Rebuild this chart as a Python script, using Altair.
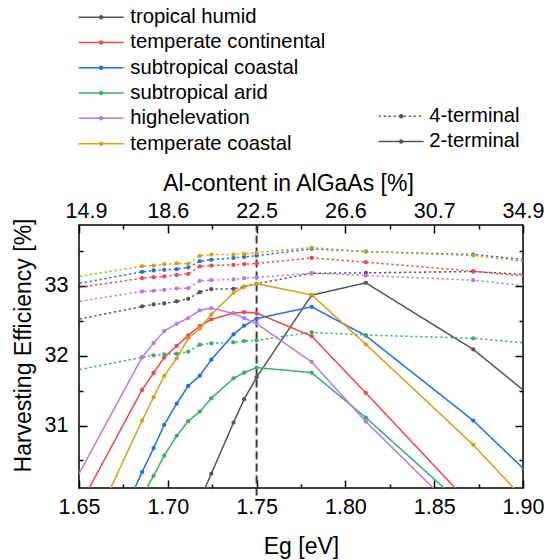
import altair as alt
import pandas as pd

# ---------------- data ----------------
EG = [1.62, 1.6855, 1.692, 1.698, 1.705, 1.7115, 1.718, 1.7245, 1.737, 1.743, 1.75,
      1.781, 1.8115, 1.872, 1.93]

CLIMATES = ["tropical humid", "temperate continental", "subtropical coastal",
            "subtropical arid", "highelevation", "temperate coastal"]
COLORS = ["#555555", "#f0474a", "#1f6fe6", "#38ae6c", "#b07ee6", "#d4a017"]
CONFIGS = ["4-terminal", "2-terminal"]

# 4-terminal (dotted)
TROP_4T = [32.37, 32.705, 32.734, 32.748, 32.777, 32.814, 32.91, 32.953, 32.957, 32.99, 33.03,
           33.18, 33.186, 33.205, 33.12]
TCONT_4T = [32.865, 33.11, 33.124, 33.134, 33.157, 33.171, 33.277, 33.291, 33.3, 33.31, 33.32,
            33.4, 33.339, 33.21, 33.065]
SCOAST_4T = [32.894, 33.2, 33.22, 33.229, 33.239, 33.263, 33.353, 33.372, 33.4, 33.414, 33.432,
             33.53, 33.49, 33.448, 33.301]
SARID_4T = [31.65, 31.977, 32.005, 32.02, 32.029, 32.057, 32.157, 32.177, 32.191, 32.21, 32.22,
            32.334, 32.296, 32.249, 32.12]
HIGH_4T = [32.656, 32.92, 32.929, 32.943, 32.962, 32.967, 33.071, 33.081, 33.091, 33.11, 33.122,
           33.181, 33.148, 33.081, 32.924]
TCOAST_4T = [33.01, 33.281, 33.291, 33.31, 33.32, 33.315, 33.43, 33.448, 33.448, 33.457, 33.475,
             33.548, 33.49, 33.434, 33.26]

# 2-terminal (solid)
TROP_2T = [None, None, None, None, None, None, 29.93, 30.31, 31.043, 31.377, 31.69,
           32.867, 33.043, 32.09, 30.89]
TCONT_2T = [28.42, 31.51, 31.753, 31.977, 32.139, 32.291, 32.424, 32.52, 32.61, 32.624, 32.61,
            32.28, 31.467, 29.83, None]
SCOAST_2T = [26.66, 30.334, 30.677, 31.01, 31.314, 31.567, 31.714, 31.943, 32.306, 32.43, 32.532,
             32.7, 32.286, 31.071, 29.66]
SARID_2T = [None, 29.99, 30.28, 30.571, 30.853, 31.063, 31.2, 31.39, 31.676, 31.757, 31.83,
            31.757, 31.114, 29.73, None]
HIGH_2T = [28.90, 31.977, 32.181, 32.353, 32.457, 32.539, 32.648, 32.681, 32.605, 32.539, 32.46,
           31.91, 31.057, 29.54, None]
TCOAST_2T = [27.49, 31.071, 31.406, 31.71, 31.962, 32.248, 32.386, 32.591, 32.9, 32.986, 33.031,
             32.871, 32.163, 30.724, 29.15]

SERIES_4T = [TROP_4T, TCONT_4T, SCOAST_4T, SARID_4T, HIGH_4T, TCOAST_4T]
SERIES_2T = [TROP_2T, TCONT_2T, SCOAST_2T, SARID_2T, HIGH_2T, TCOAST_2T]

X_DOMAIN = [1.65, 1.90]
Y_DOMAIN = [30.106, 33.871]
X_TICKS = [1.65, 1.70, 1.75, 1.80, 1.85, 1.90]
X_MINOR = [1.675, 1.725, 1.775, 1.825, 1.875]
TOP_LABELS = ["14.9", "18.6", "22.5", "26.6", "30.7", "34.9"]
Y_TICKS = [31, 32, 33]
Y_MINOR = [30.5, 31.5, 32.5, 33.5]
REF_EG = [1.75]
REF_Y = [30.0, 33.871]

# ---------------- tables ----------------
rows = []
for name, s4, s2 in zip(CLIMATES, SERIES_4T, SERIES_2T):
    for cfg, vals in (("4-terminal", s4), ("2-terminal", s2)):
        for e, v in zip(EG, vals):
            if v is not None:
                rows.append({"eg": e, "eff": v, "climate": name, "config": cfg})
df = pd.DataFrame(rows)
ref = pd.DataFrame({"eg": REF_EG, "y0": [REF_Y[0]], "y1": [REF_Y[1]]})

FONT = "Liberation Sans"
W, H = 444, 263

xscale = alt.Scale(domain=X_DOMAIN, nice=False, zero=False)
yscale = alt.Scale(domain=Y_DOMAIN, nice=False, zero=False)

# legend symbol paths, fill only (unit = sqrt(size)/2 = 5 px)
def circle(r):
    return f"M{-r},0A{r},{r},0,1,1,{r},0A{r},{r},0,1,1,{-r},0Z"

def bar(a, b, t=0.15):
    return f"M{a:.2f},{-t}L{b:.2f},{-t}L{b:.2f},{t}L{a:.2f},{t}Z"

SOLID_PATH = bar(-4.5, 4.5) + circle(0.45)
dots = ""
x0 = -4.5
while x0 < 4.5:
    dots += bar(x0, min(x0 + 0.44, 4.5))
    x0 += 1.0
DOT_PATH = dots + circle(0.45)

color_legend = alt.Legend(
    title=None, orient="none", legendX=12, legendY=-218, padding=0,
    symbolType=SOLID_PATH, symbolSize=100, symbolStrokeWidth=0, symbolOpacity=1,
    labelFont=FONT, labelFontSize=20.3, labelColor="black", labelOffset=19,
    labelLimit=400, rowPadding=4.3,
)
shape_legend = alt.Legend(
    title=None, orient="none", legendX=312, legendY=-119, padding=0,
    symbolSize=100, symbolStrokeWidth=0, symbolOpacity=1,
    symbolFillColor="#555555",
    labelFont=FONT, labelFontSize=20.3, labelColor="black", labelOffset=18,
    labelLimit=400, rowPadding=4.3,
)

# axes (ticks pointing inward: axis line moved inside by the tick length)
ax_bottom = alt.Axis(orient="bottom", values=X_TICKS, format=".2f", tickSize=8, offset=-8,
                     labelPadding=8, labelFlush=False, title="Eg [eV]", ticks=True,
                     titleBaseline="alphabetic", titleY=73)
ax_bottom_minor = alt.Axis(orient="bottom", values=X_MINOR, tickSize=4, offset=-4, ticks=True,
                           labels=False, title=None)
top_expr = "[" + ",".join(f"'{t}'" for t in TOP_LABELS) + "][round((datum.value - 1.65) / 0.05)]"
ax_top = alt.Axis(orient="top", values=X_TICKS, labelExpr=top_expr, tickSize=8, offset=-8,
                  labelPadding=3, labelFlush=False, title="Al-content in AlGaAs [%]", ticks=True,
                  labelOffset={"condition": {"test": "datum.value < 1.66", "value": 7},
                               "value": 0},
                  titleBaseline="alphabetic", titleY=-43, titleX=209, titleAnchor="middle")
ax_top_minor = alt.Axis(orient="top", values=X_MINOR, tickSize=4, offset=-4, ticks=True,
                        labels=False, title=None)
ax_left = alt.Axis(orient="left", values=Y_TICKS, format="d", tickSize=8, offset=-8, ticks=True,
                   labelPadding=11, title="Harvesting Efficiency [%]",
                   titleBaseline="alphabetic", titleX=-56.5, titleY=120, titleAngle=270)
ax_left_minor = alt.Axis(orient="left", values=Y_MINOR, tickSize=4, offset=-4, ticks=True,
                         labels=False, title=None)
ax_right = alt.Axis(orient="right", values=Y_TICKS, tickSize=8, offset=-8, ticks=True,
                    labels=False, title=None)
ax_right_minor = alt.Axis(orient="right", values=Y_MINOR, tickSize=4, offset=-4, ticks=True,
                          labels=False, title=None)

rule = alt.Chart(ref).mark_rule(color="#3a3a3a", strokeWidth=2, strokeDash=[8, 4]).encode(
    x=alt.X("eg:Q", scale=xscale, axis=ax_top_minor),
    y=alt.Y("y0:Q", scale=yscale, axis=ax_right_minor),
    y2="y1:Q",
)

lines = alt.Chart(df).mark_line(clip=True, strokeWidth=1.5).encode(
    x=alt.X("eg:Q", scale=xscale, axis=ax_bottom),
    y=alt.Y("eff:Q", scale=yscale, axis=ax_left),
    stroke=alt.Stroke("climate:N", sort=CLIMATES, scale=alt.Scale(range=COLORS), legend=None),
    strokeDash=alt.StrokeDash("config:N", sort=CONFIGS,
                              scale=alt.Scale(range=[[2.2, 2.8], [1, 0]]), legend=None),
    detail="config:N",
)

points = alt.Chart(df).mark_circle(clip=True, size=18, opacity=1).encode(
    x=alt.X("eg:Q", scale=xscale, axis=ax_bottom_minor),
    y=alt.Y("eff:Q", scale=yscale, axis=ax_left_minor),
    color=alt.Color("climate:N", scale=alt.Scale(domain=CLIMATES, range=COLORS),
                    legend=color_legend),
)

ghost = alt.Chart(df).mark_point(opacity=0, filled=True, color="#555555", clip=True).encode(
    x=alt.X("eg:Q", scale=xscale, axis=ax_top),
    y=alt.Y("eff:Q", scale=yscale, axis=ax_right),
    shape=alt.Shape("config:N", scale=alt.Scale(domain=CONFIGS, range=[DOT_PATH, SOLID_PATH]),
                    legend=shape_legend),
)

chart = (
    alt.layer(rule, lines, points, ghost)
    .resolve_axis(x="independent", y="independent")
    .properties(width=W, height=H, autosize="none",
                padding={"left": 79, "top": 225, "right": 25, "bottom": 72})
    .configure_view(stroke="black", strokeWidth=1.5)
    .configure_axis(labelFont=FONT, titleFont=FONT, labelFontSize=21.5, titleFontSize=23,
                    labelColor="black", titleColor="black", tickColor="black", tickWidth=1.5,
                    domain=False, grid=False, titleFontWeight="normal")
)

chart.save("out.html", embed_options={"renderer": "svg", "actions": False})
